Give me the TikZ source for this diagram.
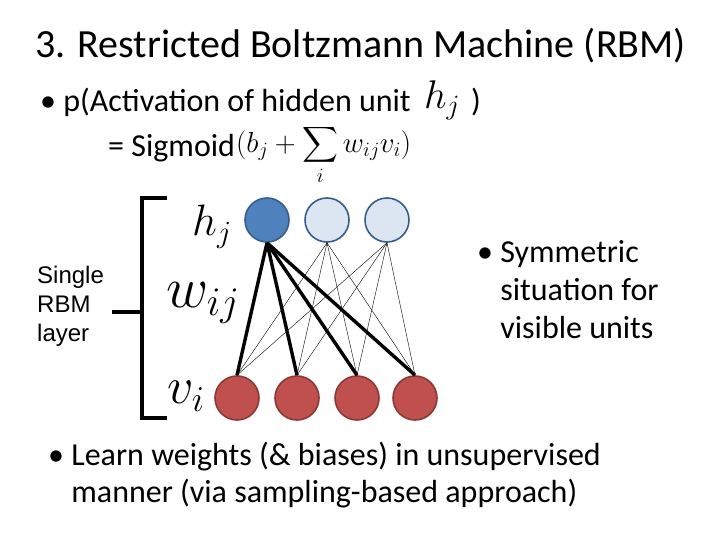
\documentclass[tikz,border=0pt]{standalone}
\usepackage{fix-cm}
\usepackage{fontspec}
\setmainfont{Carlito}
\newfontfamily\arialfont{Liberation Sans}
\usepackage{amsmath}
\tikzset{
    hidden/.style = {line width=1.6pt, circle, minimum size=44pt, inner sep=0pt},
    visible/.style = {line width=1.6pt, circle, minimum size=44pt, inner sep=0pt},
    thick link/.style = {line width=3.4pt},
    thin link/.style = {line width=0.4pt},
    txt/.style = {anchor=west, inner sep=0pt}
}
\definecolor{hblue}{HTML}{4F81BD}
\definecolor{hlight}{HTML}{DCE6F2}
\definecolor{hedge}{HTML}{385D8A}
\definecolor{vred}{HTML}{C0504D}
\definecolor{vedge}{HTML}{8C3836}
\begin{document}
\begin{tikzpicture}[x=1pt, y=-1pt]
    \useasboundingbox (0,0) rectangle (720,540);
    % texts
    \node [txt, font=\fontsize{40}{48}\selectfont] (title) at (35,46) {3. Restricted Boltzmann Machine (RBM)};
    \node [txt, font=\fontsize{32}{38}\selectfont] (act) at (40,102) {\textbullet\ p(Activation of hidden unit};
    \node [font=\fontsize{40}{48}\selectfont] (hjtop) at (442,100) {$h_j$};
    \node [font=\fontsize{32}{38}\selectfont] (close) at (476,102) {)};
    \node [txt, font=\fontsize{32}{38}\selectfont] (sig) at (108,148) {= Sigmoid};
    \node [txt, font=\fontsize{29}{34}\selectfont] (sum) at (236,155) {$(b_j+\displaystyle\sum_i w_{ij}v_i)$};
    \node [txt, font=\arialfont\fontsize{24}{29}\selectfont, align=left] (layer) at (37,306) {Single\\RBM\\layer};
    \node [txt, font=\fontsize{32}{38}\selectfont, align=left] (sym) at (477,290) {\textbullet\ Symmetric\\\phantom{\textbullet\ }situation for\\\phantom{\textbullet\ }visible units};
    \node [txt, font=\fontsize{32}{37}\selectfont, align=left] (learn) at (48,475) {\textbullet\ Learn weights (\& biases) in unsupervised\\\phantom{\textbullet\ }manner (via sampling-based approach)};
    % labels
    \node [font=\fontsize{44}{50}\selectfont] (lh) at (212,227) {$h_j$};
    \node [font=\fontsize{58}{66}\selectfont] (lw) at (203,303) {$w_{ij}$};
    \node [font=\fontsize{52}{60}\selectfont] (lv) at (186,396) {$v_i$};
    % units
    \node [hidden, fill=hblue, draw=hedge] (h1) at (267,220) {};
    \node [hidden, fill=hlight, draw=hedge] (h2) at (327,220) {};
    \node [hidden, fill=hlight, draw=hedge] (h3) at (387,220) {};
    \foreach \i/\x in {1/237,2/297,3/357,4/415}
        \node [visible, fill=vred, draw=vedge] (v\i) at (\x,398) {};
    % links
    \foreach \h in {h2,h3}
        \foreach \i in {1,...,4}
            \draw [thin link] (\h.south) -- (v\i.north);
    \foreach \i in {1,...,4}
        \draw [thick link] (h1.south) -- (v\i.north);
    % bracket
    \coordinate (btop) at (167,198);
    \coordinate (bbot) at (167,418);
    \coordinate (bmid) at (112,312);
    \draw [line width=3.2pt] (btop) -- (142,198) -- (142,418) -- (bbot);
    \draw [line width=3.2pt] (bmid) -- (142,312);
\end{tikzpicture}
\end{document}
